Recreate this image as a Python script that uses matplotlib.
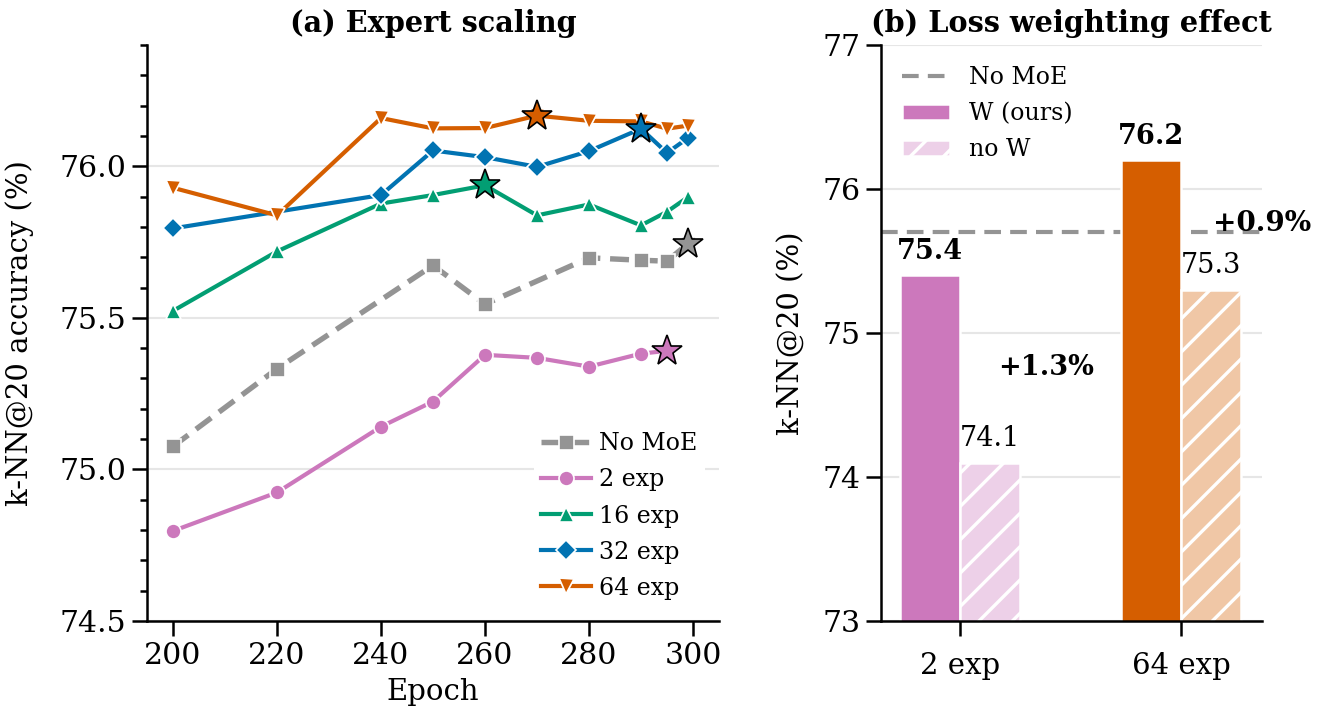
import numpy as np
import matplotlib
matplotlib.use('Agg')
import matplotlib.pyplot as plt
from matplotlib.ticker import MultipleLocator
from matplotlib.patches import Patch
from matplotlib.lines import Line2D
from matplotlib.colors import to_rgb

# colours (seaborn colorblind)
c_gray = '#949494'
c_pink = '#cc78bc'
c_green = '#029e73'
c_blue = '#0173b2'
c_orange = '#d55e00'

# (a) expert scaling, k-NN@20 accuracy per epoch
ep_nomoe = [200, 220, 250, 260, 280, 290, 295, 299]
acc_nomoe = [75.076, 75.332, 75.673, 75.545, 75.698, 75.690, 75.687, 75.744]

ep_2 = [200, 220, 240, 250, 260, 270, 280, 290, 295]
acc_2 = [74.797, 74.924, 75.141, 75.224, 75.378, 75.368, 75.339, 75.382, 75.391]

ep_16 = [200, 220, 240, 250, 260, 270, 280, 290, 295, 299]
acc_16 = [75.523, 75.719, 75.877, 75.905, 75.937, 75.838, 75.874, 75.805, 75.850, 75.898]

ep_32 = [200, 240, 250, 260, 270, 280, 290, 295, 299]
acc_32 = [75.795, 75.905, 76.052, 76.030, 75.998, 76.050, 76.124, 76.044, 76.093]

ep_64 = [200, 220, 240, 250, 260, 270, 280, 290, 295, 299]
acc_64 = [75.929, 75.838, 76.159, 76.125, 76.126, 76.167, 76.150, 76.148, 76.124, 76.134]

# (b) loss weighting effect
bar_groups = ['2 exp', '64 exp']
acc_w = [75.4, 76.2]
acc_now = [74.1, 75.3]
nomoe_ref = 75.7
gains = ['+1.3%', '+0.9%']

plt.rcParams['font.family'] = 'DejaVu Serif'
plt.rcParams['hatch.linewidth'] = 0.8
plt.rcParams['axes.linewidth'] = 0.6

fig = plt.figure(figsize=(1318 / 300, 724 / 300), dpi=300)
ax1 = fig.add_axes([147 / 1318, 103 / 724, 572 / 1318, 576 / 724])
ax2 = fig.add_axes([881 / 1318, 103 / 724, 381 / 1318, 576 / 724])

fs_tick = 7.2
fs_lab = 7.0
fs_leg = 5.7
fs_ann = 6.5


def lighten(c, a=0.35):
    r = np.array(to_rgb(c))
    return tuple(1 - (1 - r) * a)


def style_axis(ax):
    for s in ['top', 'right']:
        ax.spines[s].set_visible(False)
    ax.tick_params(which='major', length=3.5, width=0.6, labelsize=fs_tick, pad=1.5)
    ax.tick_params(which='minor', length=1.8, width=0.6)
    ax.grid(axis='y', which='major', color='#e6e6e6', lw=0.5)
    ax.set_axisbelow(True)

# ---- left panel
series = [
    ('No MoE', ep_nomoe, acc_nomoe, c_gray, 's', (3.5, 1.8)),
    ('2 exp', ep_2, acc_2, c_pink, 'o', None),
    ('16 exp', ep_16, acc_16, c_green, '^', None),
    ('32 exp', ep_32, acc_32, c_blue, 'D', None),
    ('64 exp', ep_64, acc_64, c_orange, 'v', None),
]
for name, ep, acc, col, mk, dash in series:
    kw = dict(color=col, lw=1.0, marker=mk, markersize=3.6 if mk != 'D' else 3.3,
              markeredgecolor='white', markeredgewidth=0.4, label=name)
    if dash is not None:
        kw['dashes'] = dash
        kw['lw'] = 1.3
    ax1.plot(ep, acc, **kw)
for name, ep, acc, col, mk, dash in series:
    i = int(np.argmax(acc))
    ax1.plot(ep[i], acc[i], marker='*', markersize=7.5, color=col,
             markeredgecolor='black', markeredgewidth=0.4, zorder=5)

ax1.set_xlim(195, 305)
ax1.set_ylim(74.5, 76.4)
ax1.set_xticks([200, 220, 240, 260, 280, 300])
ax1.set_yticks([74.5, 75.0, 75.5, 76.0])
ax1.yaxis.set_minor_locator(MultipleLocator(0.1))
style_axis(ax1)
ax1.set_xlabel('Epoch', fontsize=fs_lab, labelpad=2)
ax1.set_ylabel('k-NN@20 accuracy (%)', fontsize=fs_lab, labelpad=6)
ax1.set_title('(a) Expert scaling', fontsize=6.9, fontweight='bold', pad=3)
ax1.legend(loc='lower right', fontsize=fs_leg, frameon=True, facecolor='white',
           edgecolor='none', framealpha=1, handlelength=2.1, handletextpad=0.35,
           labelspacing=0.55, borderpad=0.3, borderaxespad=0.6)

# ---- right panel
x = np.arange(len(bar_groups))
w = 0.27
cols = [c_pink, c_orange]
ax2.axhline(nomoe_ref, color=c_gray, lw=1.0, dashes=(4, 2.2), zorder=1)
ax2.bar(x - w / 2, acc_w, width=w, color=cols, edgecolor='white', lw=0.6, zorder=2)
ax2.bar(x + w / 2, acc_now, width=w, color=[lighten(c) for c in cols],
        edgecolor='white', lw=0.6, hatch='///', zorder=2)
for i in range(len(x)):
    ax2.annotate(f'{acc_w[i]:.1f}', (x[i] - w / 2, acc_w[i]), xytext=(0, 2.5),
                 textcoords='offset points', ha='center', va='bottom',
                 fontsize=fs_ann, fontweight='bold')
    ax2.annotate(f'{acc_now[i]:.1f}', (x[i] + w / 2, acc_now[i]), xytext=(0, 2.5),
                 textcoords='offset points', ha='center', va='bottom', fontsize=fs_ann)
ax2.text(0.389, 74.757, gains[0], ha='center', va='center', fontsize=fs_ann, fontweight='bold')
ax2.text(1.365, 75.757, gains[1], ha='center', va='center', fontsize=6.7, fontweight='bold')

ax2.set_xlim(-0.357, 1.366)
ax2.set_ylim(73, 77)
ax2.set_xticks(x)
ax2.set_xticklabels(bar_groups)
ax2.set_yticks([73, 74, 75, 76, 77])
style_axis(ax2)
ax2.tick_params(axis='x', labelsize=fs_lab, pad=4)
ax2.set_ylabel('k-NN@20 (%)', fontsize=fs_lab, labelpad=4)
ax2.set_title('(b) Loss weighting effect', fontsize=6.9, fontweight='bold', pad=3)
handles = [
    Line2D([0], [0], color=c_gray, lw=1.0, dashes=(4, 2.2)),
    Patch(facecolor=c_pink, edgecolor='white', lw=0.6),
    Patch(facecolor=lighten(c_pink), edgecolor='white', lw=0.6, hatch='///'),
]
ax2.legend(handles, ['No MoE', 'W (ours)', 'no W'], loc='upper left', fontsize=fs_leg,
           frameon=False, handlelength=2.0, handletextpad=0.8, labelspacing=0.55,
           borderaxespad=0.5)

fig.savefig('out.png', dpi=300)
